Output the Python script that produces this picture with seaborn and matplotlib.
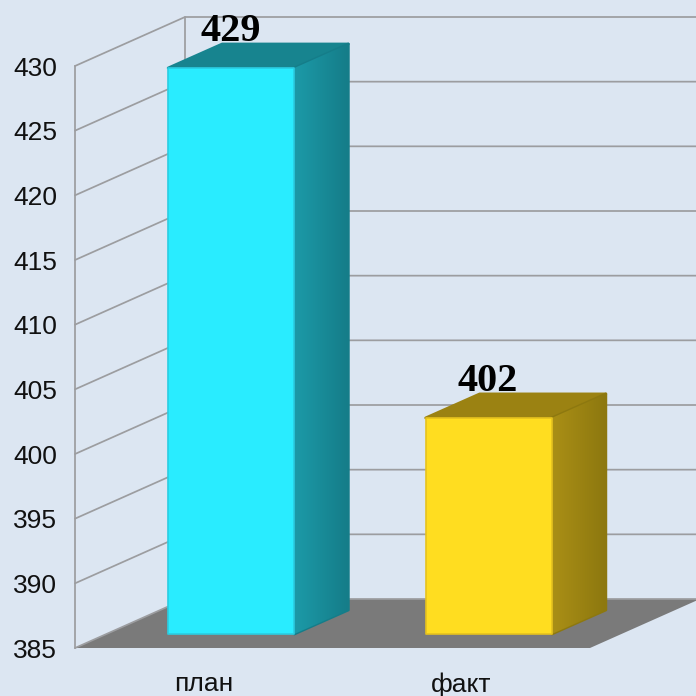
import matplotlib
matplotlib.use("Agg")
import matplotlib.pyplot as plt
import numpy as np
import seaborn as sns
from matplotlib.colors import LinearSegmentedColormap
from matplotlib.patches import Polygon

categories = ["план", "факт"]
values = [429, 402]
y_ticks = [385, 390, 395, 400, 405, 410, 415, 420, 425, 430]

front_colors = ["#29ecff", "#ffdd20"]
edge_colors = ["#2bcde2", "#e6c21e"]
top_colors = ["#17848f", "#9b8212"]
side_colors = [("#1c9aa8", "#157d89"), ("#aa8f16", "#8d780f")]

BG = "#dce6f2"
GRID = "#9c9da0"
FLOOR = "#7a7a7a"
SIZE = 696


def px_axes(fig, left, top, right, bottom):
    """Add a transparent axes placed by picture pixels (y counted from the top)."""
    ax = fig.add_axes([left / SIZE, 1 - bottom / SIZE, (right - left) / SIZE, (bottom - top) / SIZE])
    ax.patch.set_alpha(0)
    return ax


def draw_walls(ax):
    """Axis, floor and the gridlines of the left and back walls."""
    ax.set_xlim(-0.5, 1.5)
    ax.set_ylim(385, 430)
    dx, dy = 110 / 257.5, 49 / (582 / 45)

    ax.add_patch(Polygon([(-0.5, 385), (1.5, 385), (1.5 + dx, 385 + dy), (-0.5 + dx, 385 + dy)],
                         facecolor=FLOOR, edgecolor="none", clip_on=False, zorder=1))
    for v in y_ticks:
        ax.plot([-0.5, -0.5 + dx, 2.1], [v, v + dy, v + dy], color=GRID, lw=1.25, clip_on=False, zorder=2)
    ax.plot([-0.5 + dx, -0.5 + dx], [385 + dy, 430 + dy], color=GRID, lw=1.25, clip_on=False, zorder=2)

    sns.despine(ax=ax, top=True, right=True, bottom=True, left=False)
    ax.spines["left"].set_color(GRID)
    ax.spines["left"].set_linewidth(1.25)
    ax.set_yticks(y_ticks)
    ax.set_xticks([0, 1], categories)
    ax.tick_params(axis="y", length=0, pad=13, labelsize=19, colors="#111111")
    ax.tick_params(axis="x", length=0, pad=17.5, labelsize=19, colors="#111111")
    ax.set_xlabel("")
    ax.set_ylabel("")


def draw_bars(ax):
    """Front faces through seaborn, then the top and side faces from each bar."""
    sns.barplot(x=categories, y=values, hue=categories, palette=front_colors, saturation=1,
                width=0.49, legend=False, ax=ax, zorder=5)
    scale = 12.96
    y_low = 429 - (634 - 68) / scale
    y_high = 429 + (68 - 17) / scale
    ax.set_xlim(-0.5, 1.5)
    ax.set_ylim(y_low, y_high)
    ax.set_xticks([])
    ax.set_yticks([])
    ax.set_xlabel("")
    ax.set_ylabel("")
    sns.despine(ax=ax, left=True, bottom=True)
    dx, dy = 54 / 257.5, 24 / scale

    for i, bar in enumerate(ax.patches):
        x0, x1, v = bar.get_x(), bar.get_x() + bar.get_width(), values[i]
        bar.set_y(y_low)
        bar.set_height(v - y_low)
        bar.set(edgecolor=edge_colors[i], linewidth=1.2, joinstyle="round", clip_on=False)

        top = Polygon([(x0, v), (x0 + dx, v + dy), (x1 + dx, v + dy), (x1, v)],
                      facecolor=top_colors[i], edgecolor=top_colors[i], lw=2, joinstyle="round",
                      clip_on=False, zorder=3)
        ax.add_patch(top)

        side = Polygon([(x1, y_low), (x1, v), (x1 + dx, v + dy), (x1 + dx, y_low + dy)],
                       facecolor=side_colors[i][1], edgecolor=side_colors[i][1], lw=2,
                       joinstyle="round", clip_on=False, zorder=3)
        ax.add_patch(side)
        cmap = LinearSegmentedColormap.from_list("side", side_colors[i])
        img = ax.imshow(np.linspace(0, 1, 64).reshape(1, -1), cmap=cmap, aspect="auto", zorder=4,
                        extent=(x1, x1 + dx, y_low, v + dy), clip_on=True)
        img.set_clip_path(side)

        ax.annotate(str(v), (x0 + bar.get_width() / 2, v), xytext=(-0.5, 19.2), textcoords="offset points",
                    ha="center", va="baseline", family="Liberation Serif", weight="bold",
                    fontsize=29, color="black", annotation_clip=False, zorder=6)
    ax.set_xlim(-0.5, 1.5)
    ax.set_ylim(y_low, y_high)


def main() -> None:
    sns.set_theme(style="white")
    plt.rcParams["font.family"] = ["Liberation Sans", "DejaVu Sans"]

    fig = plt.figure(figsize=(6.96, 6.96), dpi=100, facecolor=BG)
    wall_ax = px_axes(fig, 75, 66, 590, 648)
    bar_ax = px_axes(fig, 102.5, 17, 617.5, 634)
    draw_walls(wall_ax)
    draw_bars(bar_ax)
    fig.savefig("out.png", dpi=100, facecolor=BG)


if __name__ == "__main__":
    main()
